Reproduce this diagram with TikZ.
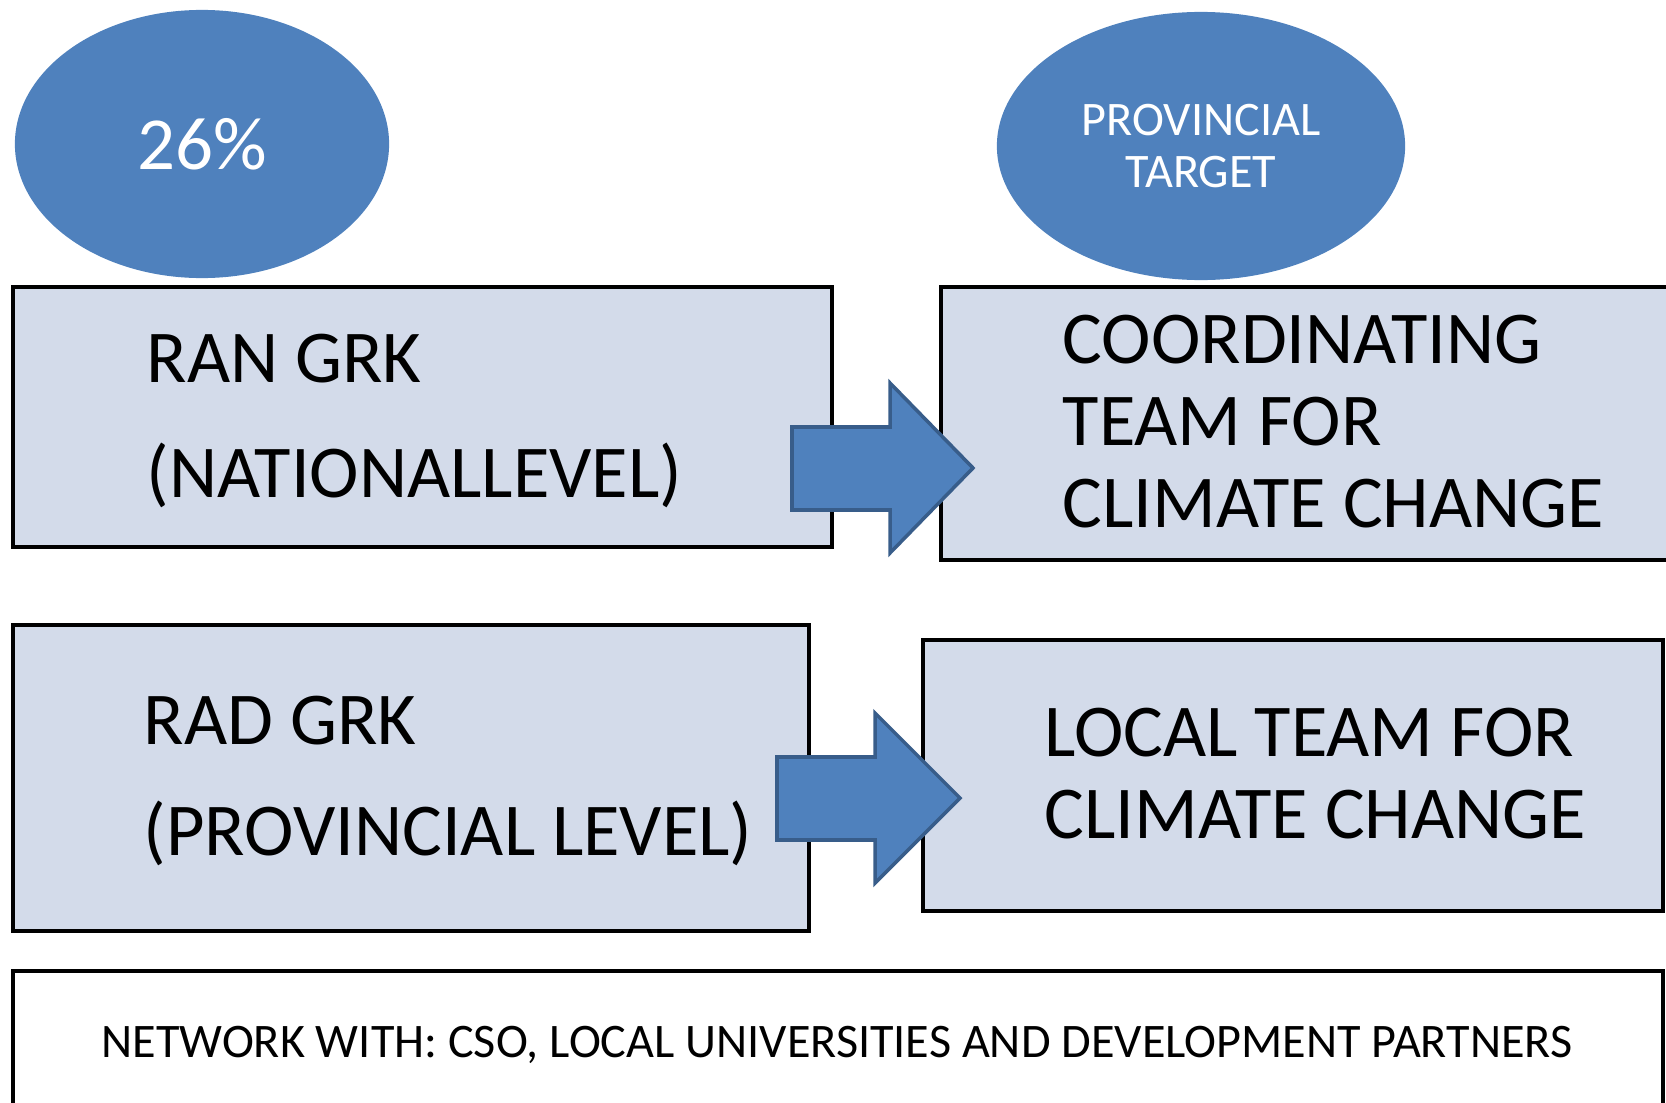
\documentclass[tikz,border=0pt]{standalone}
\usepackage{fontspec}
\setmainfont{Carlito}
\usepackage{tikz}
\usetikzlibrary{
	shapes.geometric,
	fit,
	positioning
}

\definecolor{goalblue}{HTML}{4F81BD}
\definecolor{arrowline}{HTML}{385D8A}
\definecolor{boxfill}{HTML}{D3DBEA}

\tikzset{
	goal/.style={ellipse, fill=goalblue, text=white, inner sep=0pt, align=center},
	levelbox/.style={draw=black, line width=1.2pt, fill=boxfill, inner sep=0pt},
	netbox/.style={draw=black, line width=1.2pt, fill=white, inner sep=0pt},
	bigtext/.style={anchor=base west, inner sep=0pt, font=\fontsize{21.2}{25}\selectfont},
	blockarrow/.style={fill=goalblue, draw=arrowline, line width=1pt, line join=miter}
}

\begin{document}
\begin{tikzpicture}[x=0.01cm,y=-0.01cm]
		\useasboundingbox (0,0) rectangle (1666,1103);

		% targets
		\node[goal, minimum width=3.74cm, minimum height=2.68cm,
			font=\fontsize{21.3}{25}\selectfont] (national) at (202,144) {26\%};
		\node[goal, minimum width=4.08cm, minimum height=2.68cm,
			font=\fontsize{13.7}{14.8}\selectfont] (provincial) at (1201,146) {PROVINCIAL\\TARGET};

		% boxes
		\node[levelbox, fit={(13,287) (832,547)}]   (ran)   {};
		\node[levelbox, fit={(941,287) (1690,560)}] (coord) {};
		\node[levelbox, fit={(13,625) (809,931)}]   (rad)   {};
		\node[levelbox, fit={(923,640) (1663,911)}] (local) {};
		\node[netbox,   fit={(13,971) (1663,1130)}] (net)   {};

		% box texts
		\node[bigtext] (ran1)   at (146,382)  {RAN GRK};
		\node[bigtext] (ran2)   at (146,497)  {(NATIONALLEVEL)};
		\node[bigtext] (coord1) at (1062,363) {COORDINATING};
		\node[bigtext] (coord2) at (1062,445) {TEAM FOR};
		\node[bigtext] (coord3) at (1062,527) {CLIMATE CHANGE};
		\node[bigtext] (rad1)   at (143,744)  {RAD GRK};
		\node[bigtext] (rad2)   at (143,855)  {(PROVINCIAL LEVEL)};
		\node[bigtext] (local1) at (1044,756) {LOCAL TEAM FOR};
		\node[bigtext] (local2) at (1044,838) {CLIMATE CHANGE};
		\node[anchor=base, inner sep=0pt, font=\fontsize{13.7}{16}\selectfont]
			(nettext) at (837,1057) {NETWORK WITH: CSO, LOCAL UNIVERSITIES AND DEVELOPMENT PARTNERS};

		% block arrows
		\draw[blockarrow] (792,427) -- (890,427) -- (890,383) -- (973,468)
			-- (890,553) -- (890,510) -- (792,510) -- cycle;
		\draw[blockarrow] (777,757) -- (875,757) -- (875,713) -- (960,798)
			-- (875,883) -- (875,840) -- (777,840) -- cycle;
	\end{tikzpicture}
\end{document}
